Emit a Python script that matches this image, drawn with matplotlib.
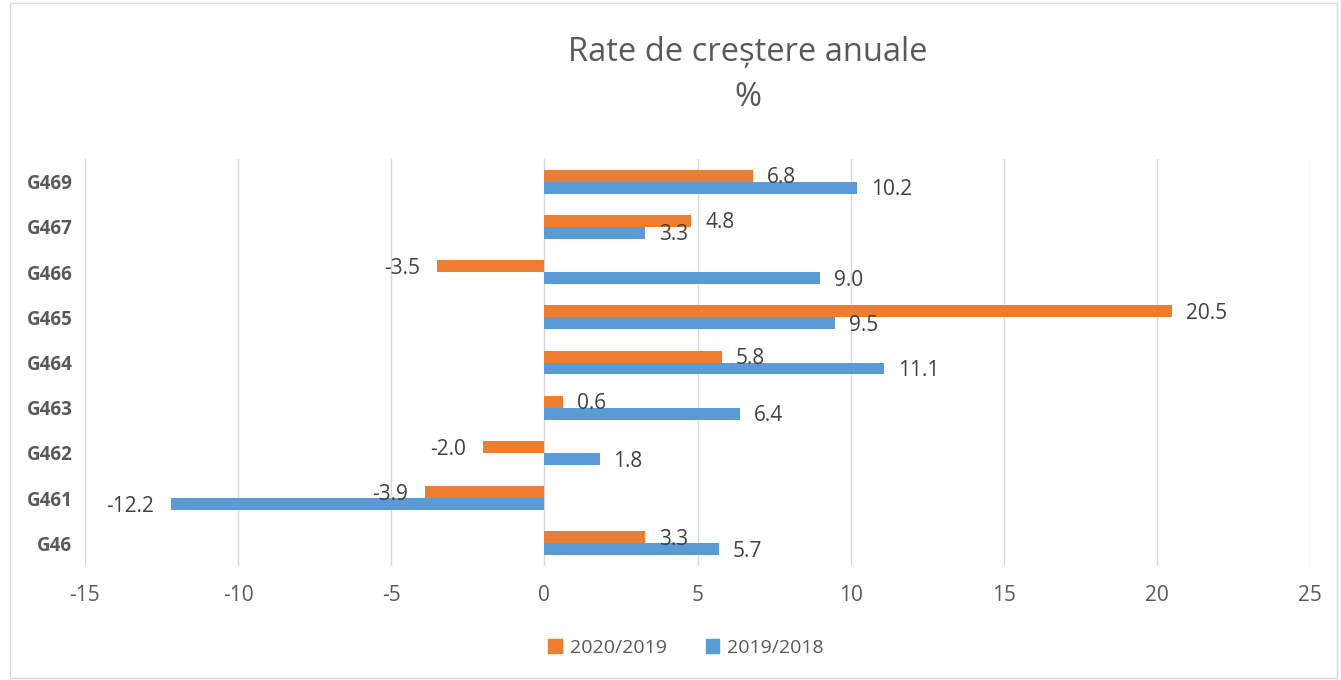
import matplotlib
matplotlib.use("Agg")
import matplotlib.pyplot as plt
from matplotlib.patches import Rectangle, Patch
import numpy as np

plt.rcParams['font.family'] = ['Open Sans', 'DejaVu Sans']

categories = ["G46", "G461", "G462", "G463", "G464", "G465", "G466", "G467", "G469"]
s2020 = [3.3, -3.9, -2.0, 0.6, 5.8, 20.5, -3.5, 4.8, 6.8]
s2019 = [5.7, -12.2, 1.8, 6.4, 11.1, 9.5, 9.0, 3.3, 10.2]
labels = ["2020/2019", "2019/2018"]
colors = ["#ED7D31", "#5B9BD5"]
xticks = [-15, -10, -5, 0, 5, 10, 15, 20, 25]

W, H = 1341, 680
fig = plt.figure(figsize=(W / 100, H / 100), dpi=100)
ax = fig.add_axes([85 / W, (H - 566) / H, (1310 - 85) / W, (566 - 159) / H])

y = np.arange(len(categories))
h = 0.265
ax.barh(y + h / 2, s2020, height=h, color=colors[0], zorder=3)
ax.barh(y - h / 2, s2019, height=h, color=colors[1], zorder=3)

txtc = "#404040"
for vals, off in ((s2020, h / 2), (s2019, -h / 2)):
    for yi, v in zip(y, vals):
        if v >= 0:
            ax.annotate(f"{v:.1f}", (v, yi + off), xytext=(10, -1.5), textcoords="offset points",
                        ha="left", va="center", fontsize=15, color=txtc, zorder=4)
        else:
            ax.annotate(f"{v:.1f}", (v, yi + off), xytext=(-12, -1.5), textcoords="offset points",
                        ha="right", va="center", fontsize=15, color=txtc, zorder=4)

ax.set_xlim(-15, 25)
ax.set_ylim(-0.5, len(categories) - 0.5)
ax.set_xticks(xticks)
ax.set_xticklabels([str(t) for t in xticks], fontsize=15, color="#595959")
ax.set_yticks(y)
ax.set_yticklabels(categories, fontsize=13.5, fontweight="bold", color="#595959")
ax.tick_params(axis="both", length=0)
ax.tick_params(axis="x", pad=14)
ax.tick_params(axis="y", pad=9)
ax.grid(axis="x", color="#d9d9d9", linewidth=1, zorder=0)
for s in ax.spines.values():
    s.set_visible(False)

fig.text(748 / W, 1 - 52 / H, "Rate de creștere anuale", ha="center", va="center",
         fontsize=23.5, color="#595959")
fig.text(748 / W, 1 - 98 / H, "%", ha="center", va="center", fontsize=23.5, color="#595959")

handles = [Patch(color=colors[0]), Patch(color=colors[1])]
fig.legend(handles, labels, loc="center", bbox_to_anchor=(686 / W, 1 - 648 / H), ncol=2,
           frameon=False, fontsize=14, handlelength=0.7, handleheight=0.7,
           columnspacing=2.0, handletextpad=0.4, labelcolor="#595959")

fig.patches.append(Rectangle((10 / W, 2 / H), (1337 - 10) / W, (677 - 2) / H, transform=fig.transFigure,
                             fill=False, edgecolor="#d9d9d9", linewidth=1))

fig.savefig("out.png", dpi=100)
